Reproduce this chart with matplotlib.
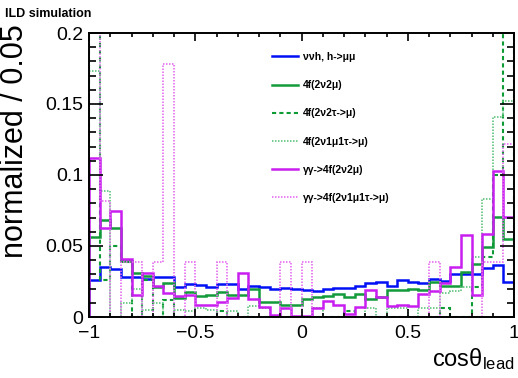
import numpy as np
import matplotlib
matplotlib.use("Agg")
import matplotlib.pyplot as plt
from matplotlib.ticker import MultipleLocator, FuncFormatter

plt.rcParams['font.family'] = ['Liberation Sans', 'DejaVu Sans']
plt.rcParams['mathtext.default'] = 'regular'

# bin edges: 40 bins of 0.05 in cos(theta_lead)
edges = np.linspace(-1, 1, 41)

# nu nu h, h -> mu mu
h_mumu = [0.026, 0.035, 0.034, 0.028, 0.028, 0.027, 0.028, 0.028, 0.021, 0.0235,
          0.0225, 0.021, 0.0235, 0.0235, 0.0195, 0.022, 0.021, 0.020, 0.0205, 0.0195,
          0.019, 0.0185, 0.0195, 0.0205, 0.0205, 0.022, 0.024, 0.025, 0.0215, 0.026,
          0.025, 0.024, 0.027, 0.0255, 0.030, 0.030, 0.030, 0.0345, 0.0365, 0.025]

# 4f(2nu2mu)
f4_2nu2mu = [0.056, 0.0685, 0.063, 0.0395, 0.031, 0.029, 0.021, 0.024, 0.0135, 0.0175,
             0.0147, 0.0154, 0.0178, 0.0155, 0.0154, 0.0194, 0.0108, 0.0105, 0.0085, 0.0085,
             0.0125, 0.014, 0.015, 0.016, 0.014, 0.016, 0.013, 0.014, 0.019, 0.019,
             0.020, 0.019, 0.0248, 0.0218, 0.0218, 0.032, 0.037, 0.049, 0.0704, 0.0552]

# 4f(2nu2tau->mu)
f4_2nu2tau = [0.25, 0.026, 0.05, 0.039, 0.0, 0.026, 0.0, 0.012, 0.0, 0.0,
              0.0, 0.0, 0.004, 0.0, 0.0, 0.0, 0.0, 0.0, 0.0, 0.0,
              0.0, 0.0, 0.0, 0.0, 0.004, 0.0, 0.0, 0.0, 0.0, 0.0,
              0.0, 0.0, 0.0, 0.006, 0.0, 0.0, 0.021, 0.042, 0.10, 0.25]

# 4f(2nu1mu1tau->mu)
f4_1mu1tau = [0.173, 0.089, 0.0, 0.01, 0.02, 0.005, 0.01, 0.0, 0.005, 0.004,
              0.006, 0.005, 0.0, 0.004, 0.0, 0.0075, 0.006, 0.0, 0.0, 0.0,
              0.0, 0.006, 0.0, 0.0, 0.0, 0.0, 0.006, 0.0, 0.006, 0.006,
              0.0, 0.006, 0.006, 0.017, 0.0185, 0.021, 0.042, 0.083, 0.141, 0.152]

# gamma gamma -> 4f(2nu2mu)
gg_2nu2mu = [0.112, 0.063, 0.075, 0.041, 0.0154, 0.0307, 0.022, 0.017, 0.0145, 0.0157,
             0.0082, 0.0082, 0.0108, 0.0135, 0.0307, 0.0124, 0.0072, 0.0014, 0.006, 0.0005,
             0.0005, 0.0066, 0.011, 0.0084, 0.002, 0.0073, 0.019, 0.0143, 0.0076, 0.0085,
             0.0078, 0.016, 0.0185, 0.0236, 0.035, 0.0577, 0.0153, 0.0584, 0.1025, 0.0706]

# gamma gamma -> 4f(2nu1mu1tau->mu)
gg_1mu1tau = [0.25, 0.082, 0.0, 0.039, 0.039, 0.0, 0.039, 0.178, 0.0, 0.039,
              0.0, 0.0, 0.039, 0.0, 0.0, 0.0, 0.0, 0.0, 0.039, 0.0,
              0.039, 0.0, 0.0, 0.0, 0.0, 0.0, 0.0, 0.0, 0.0, 0.0,
              0.0, 0.0, 0.039, 0.0, 0.0, 0.0, 0.0, 0.039, 0.039, 0.122]

labels = ['\u03bd\u03bdh, h->\u03bc\u03bc', '4f(2\u03bd2\u03bc)', '4f(2\u03bd2\u03c4->\u03bc)',
          '4f(2\u03bd1\u03bc1\u03c4->\u03bc)', '\u03b3\u03b3->4f(2\u03bd2\u03bc)',
          '\u03b3\u03b3->4f(2\u03bd1\u03bc1\u03c4->\u03bc)']

fig = plt.figure(figsize=(5.18, 3.78), dpi=100)
ax = fig.add_axes([89/518, 1-317/378, 425/518, 284/378])

lw = 1.8
series = [
    (h_mumu, '#0010f5', '-', lw),
    (f4_2nu2mu, '#139a3a', '-', lw),
    (f4_2nu2tau, '#0e9b35', (0, (2.0, 1.5)), 1.5),
    (f4_1mu1tau, '#5cc47a', (0, (0.9, 0.9)), 1.2),
    (gg_2nu2mu, '#c81ef0', '-', lw),
    (gg_1mu1tau, '#e66cf0', (0, (0.9, 0.9)), 1.2),
]
handles = []
for (vals, col, ls, w), lab in zip(series, labels):
    ax.stairs(vals, edges, color=col, linestyle=ls, linewidth=w, baseline=0)
    h, = ax.plot([], [], color=col, linestyle=ls, linewidth=w, label=lab)
    handles.append(h)

ax.set_xlim(-1, 1)
ax.set_ylim(0, 0.2)
ax.xaxis.set_major_locator(MultipleLocator(0.5))
ax.xaxis.set_minor_locator(MultipleLocator(0.1))
ax.yaxis.set_major_locator(MultipleLocator(0.05))
ax.yaxis.set_minor_locator(MultipleLocator(0.01))
fmt = FuncFormatter(lambda v, p: ('%g' % round(v, 3)).replace('-', '\u2212'))
ax.xaxis.set_major_formatter(fmt)
ax.yaxis.set_major_formatter(fmt)
ax.tick_params(which='both', direction='in', top=True, right=True, width=1.2,
               labelsize=14, colors='black')
ax.tick_params(axis='x', which='major', length=6, pad=6)
ax.tick_params(axis='x', which='minor', length=3)
ax.tick_params(axis='y', which='major', length=10, pad=4)
ax.tick_params(axis='y', which='minor', length=5)
for sp in ax.spines.values():
    sp.set_linewidth(1.4)

fig.text(15/518, 1-24/378, 'normalized / 0.05', rotation=90, ha='center', va='top',
         fontsize=22)
fig.text(514/518, 1-372/378, 'cos$\\theta_{lead}$', ha='right', va='bottom', fontsize=17)
fig.text(5/518, 1-14/378, 'ILD simulation', ha='left', va='center', fontsize=9,
         fontweight='bold')

ax.legend(handles=handles, loc='upper left', bbox_to_anchor=(272/518, 1-52/378),
          bbox_transform=fig.transFigure, frameon=False,
          prop={'weight': 'bold', 'size': 7.5}, handlelength=2.5, handletextpad=0.5,
          labelspacing=1.75, borderpad=0, borderaxespad=0)

fig.savefig('out.png', dpi=100)
